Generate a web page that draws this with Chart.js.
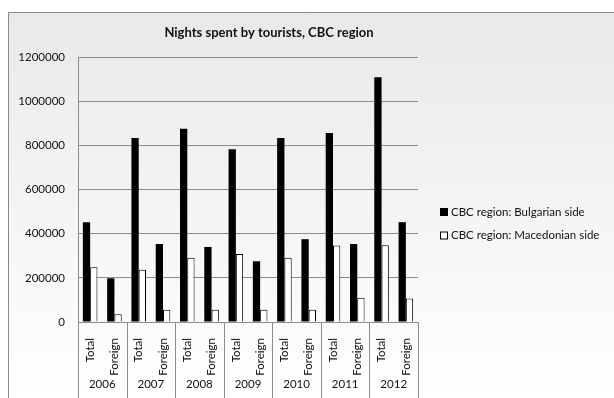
<!DOCTYPE html>
<html>
<head>
<meta charset="utf-8">
<script src="https://cdn.jsdelivr.net/npm/chart.js@4/dist/chart.umd.min.js"></script>
<style>
html,body{margin:0;padding:0;background:#fff;}
#wrap{position:absolute;left:0;top:0;width:614px;height:398px;}
</style>
</head>
<body>
<div id="wrap"><canvas id="c" width="614" height="398"></canvas></div>
<script>
const years = ['2006','2007','2008','2009','2010','2011','2012'];
const kinds = ['Total','Foreign'];
const categories = ['Total','Foreign','Total','Foreign','Total','Foreign','Total','Foreign','Total','Foreign','Total','Foreign','Total','Foreign'];
const bulgarianSide = [452000,198000,833000,353000,875000,340000,782000,275000,833000,375000,856000,353000,1108000,452000];
const macedonianSide = [248000,35000,237000,56000,291000,56000,308000,56000,291000,56000,346000,110000,348000,106000];
const seriesNames = ['CBC region: Bulgarian side','CBC region: Macedonian side'];
const yTicks = [0,200000,400000,600000,800000,1000000,1200000];
const titleText = 'Nights spent by tourists, CBC region';

const FONT = 'Lato, "Open Sans", sans-serif';
const TXT = '#111111';
const GRID = '#8c8c8c';

const decor = {
  id: 'decor',
  beforeDraw(chart) {
    const ctx = chart.ctx;
    ctx.save();
    const g = ctx.createLinearGradient(0, 12, 0, 398);
    g.addColorStop(0, '#e9e9e9');
    g.addColorStop(1, '#ffffff');
    ctx.fillStyle = g;
    ctx.fillRect(8, 12, 620, 400);
    ctx.strokeStyle = '#8a8a8a';
    ctx.lineWidth = 1;
    ctx.beginPath();
    ctx.moveTo(8.5, 400);
    ctx.lineTo(8.5, 12.5);
    ctx.lineTo(620, 12.5);
    ctx.stroke();
    // title
    ctx.fillStyle = TXT;
    ctx.font = 'bold 13px ' + FONT;
    ctx.textAlign = 'center';
    ctx.textBaseline = 'middle';
    ctx.fillText(titleText, 269, 33);
    ctx.restore();
  },
  afterDraw(chart) {
    const ctx = chart.ctx;
    const x = chart.scales.x;
    const ca = chart.chartArea;
    ctx.save();
    // group separators
    ctx.strokeStyle = GRID;
    ctx.lineWidth = 1;
    const per = kinds.length;
    for (let i = 0; i <= years.length; i++) {
      let px;
      if (i === 0) px = ca.left;
      else if (i === years.length) px = ca.right;
      else px = (x.getPixelForValue(i * per - 1) + x.getPixelForValue(i * per)) / 2;
      px = Math.round(px) + 0.5;
      ctx.beginPath();
      ctx.moveTo(px, ca.bottom);
      ctx.lineTo(px, 400);
      ctx.stroke();
    }
    // year labels
    ctx.fillStyle = TXT;
    ctx.font = '11.5px ' + FONT;
    ctx.textAlign = 'center';
    ctx.textBaseline = 'middle';
    years.forEach((yr, i) => {
      const a = x.getPixelForValue(i * per);
      const b = x.getPixelForValue(i * per + per - 1);
      ctx.fillText(yr, (a + b) / 2, 384);
    });
    // legend
    const items = [{fill:'#000000'},{fill:'#ffffff'}];
    ctx.textAlign = 'left';
    items.forEach((it, i) => {
      const cy = 212 + i * 23.5;
      ctx.fillStyle = it.fill;
      ctx.fillRect(440, cy - 4, 8, 8);
      ctx.strokeStyle = '#000';
      ctx.strokeRect(440.5, cy - 3.5, 7, 7);
      ctx.fillStyle = TXT;
      ctx.fillText(seriesNames[i], 451, cy);
    });
    ctx.restore();
  }
};

new Chart(document.getElementById('c'), {
  type: 'bar',
  data: {
    labels: categories,
    datasets: [
      {label: seriesNames[0], data: bulgarianSide, backgroundColor: '#000000', borderColor: '#000000', borderWidth: 0},
      {label: seriesNames[1], data: macedonianSide, backgroundColor: '#ffffff', borderColor: '#000000', borderWidth: 1}
    ]
  },
  options: {
    responsive: false,
    animation: false,
    devicePixelRatio: 1,
    categoryPercentage: 0.6,
    barPercentage: 1.0,
    layout: {padding: {top: 57, left: 0, right: 196, bottom: 0}},
    plugins: {
      legend: {display: false},
      tooltip: {enabled: false},
      title: {display: false}
    },
    scales: {
      x: {
        afterFit(s) { s.height = 76; },
        grid: {display: false},
        border: {display: true, color: GRID},
        ticks: {
          color: TXT, autoSkip: false, minRotation: 90, maxRotation: 90,
          padding: 8, font: {family: FONT, size: 11.5}
        }
      },
      y: {
        min: 0, max: 1200000,
        afterFit(s) { s.width = 78; },
        afterBuildTicks(s) { s.ticks = yTicks.map(v => ({value: v})); },
        grid: {color: GRID, drawTicks: false},
        border: {display: true, color: GRID},
        ticks: {
          color: TXT, padding: 13, font: {family: FONT, size: 11.5},
          callback: v => String(v)
        }
      }
    }
  },
  plugins: [decor]
});
</script>
</body>
</html>
